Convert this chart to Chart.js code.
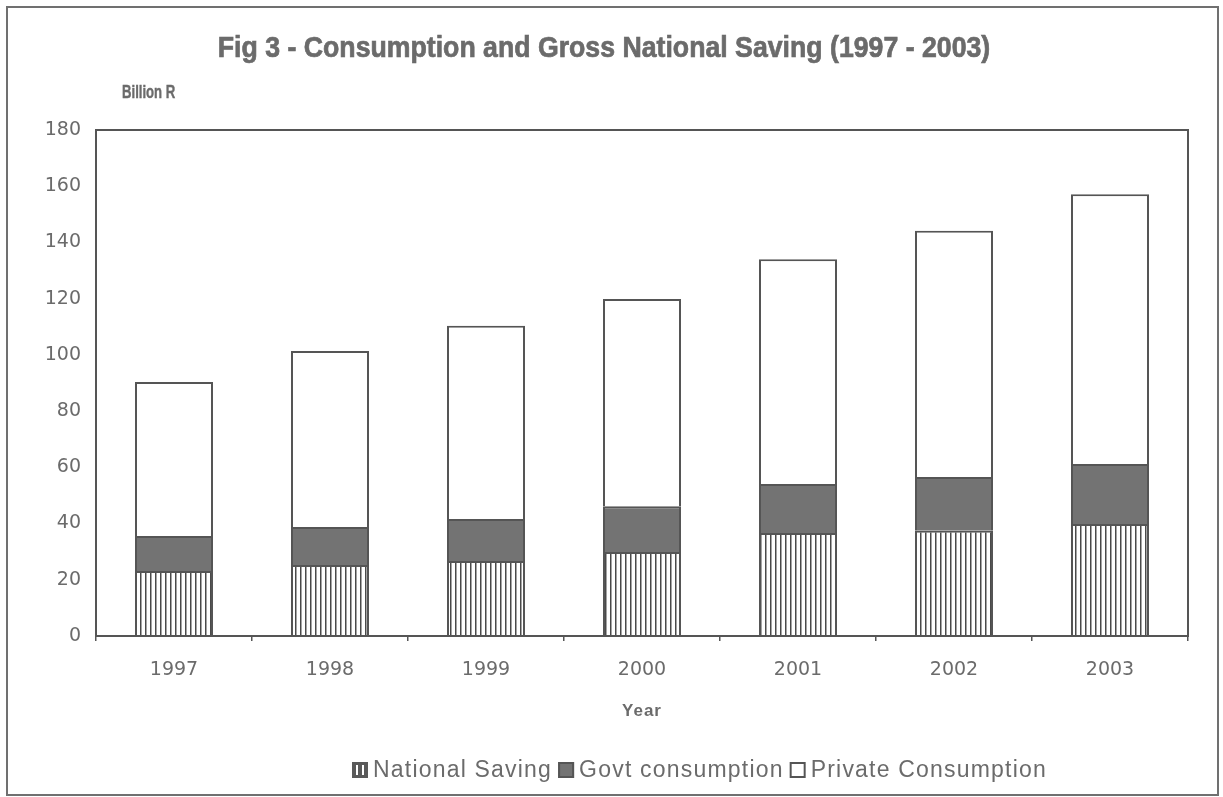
<!DOCTYPE html>
<html>
<head>
<meta charset="utf-8">
<script src="https://cdn.jsdelivr.net/npm/chart.js@4.4.0/dist/chart.umd.min.js"></script>
<style>
  html, body { margin: 0; padding: 0; background: #ffffff; }
  #wrap { position: relative; width: 1223px; height: 797px; }
  canvas { display: block; }
</style>
</head>
<body>
<div id="wrap"><canvas id="chart" width="1223" height="797"></canvas></div>
<script>
// Consumption and Gross National Saving, billion rupees
const years = ['1997', '1998', '1999', '2000', '2001', '2002', '2003'];
const nationalSaving = [23.1, 25.3, 26.7, 29.9, 36.6, 37.4, 39.8];
const govtConsumption = [12.5, 13.5, 14.9, 16.3, 17.5, 19.2, 21.4];
const privateConsumption = [54.8, 62.6, 68.8, 73.7, 79.9, 87.6, 95.9];
const seriesNames = ['National Saving', 'Govt consumption', 'Private Consumption'];
const yAxisMin = 0;
const yAxisMax = 180;
const yAxisStep = 20;

const titleText = 'Fig 3 - Consumption and Gross National Saving (1997 - 2003)';
const unitText = 'Billion R';
const xAxisText = 'Year';

const INK = '#555555';
const TEXT = '#6b6b6b';
const GOVT_FILL = '#737373';

// vertical hatching used for the saving segments
function makeHatch(bg, line, step, lw) {
  const c = document.createElement('canvas');
  c.width = step; c.height = 8;
  const g = c.getContext('2d');
  g.fillStyle = bg;
  g.fillRect(0, 0, step, 8);
  g.fillStyle = line;
  g.fillRect(0, 0, lw, 8);
  return g.createPattern(c, 'repeat');
}
const hatch = makeHatch('#ffffff', '#4a4a4a', 5, 1.5);

// heavy condensed text: a bold face squeezed horizontally and lightly stroked
function condensedText(ctx, text, x, y, squeeze, weight) {
  ctx.save();
  ctx.translate(x, y);
  ctx.scale(squeeze, 1);
  ctx.fillText(text, 0, 0);
  if (weight) {
    ctx.lineWidth = weight;
    ctx.strokeStyle = ctx.fillStyle;
    ctx.strokeText(text, 0, 0);
  }
  ctx.restore();
}

// frame, plot-area box, title, unit label and legend
const decorations = {
  id: 'decorations',
  afterDraw(chart) {
    const ctx = chart.ctx;
    const a = chart.chartArea;
    ctx.save();

    // outer frame
    ctx.strokeStyle = '#707070';
    ctx.lineWidth = 2;
    ctx.strokeRect(7, 7, 1211, 788);

    // plot area box
    ctx.strokeStyle = INK;
    ctx.lineWidth = 2;
    ctx.strokeRect(a.left, a.top, a.right - a.left, a.bottom - a.top);

    // title
    ctx.fillStyle = TEXT;
    ctx.textBaseline = 'middle';
    ctx.textAlign = 'center';
    ctx.font = 'bold 29px "Liberation Sans", Arial, sans-serif';
    condensedText(ctx, titleText, 604, 49, 0.92, 0.7);

    // unit label
    ctx.textAlign = 'left';
    ctx.font = 'bold 18px "Liberation Sans", Arial, sans-serif';
    condensedText(ctx, unitText, 122, 93, 0.73, 0.4);

    // x axis name
    ctx.textAlign = 'center';
    ctx.font = 'bold 17px "Liberation Sans", Arial, sans-serif';
    ctx.letterSpacing = '1px';
    ctx.fillText(xAxisText, 642, 711);

    // legend
    ctx.textAlign = 'left';
    ctx.font = '23px "Liberation Sans", Arial, sans-serif';
    ctx.letterSpacing = '1.2px';
    let x = 352;
    const y = 770;
    const box = 16;
    chart.data.datasets.forEach((ds, i) => {
      const bx = x, by = y - box / 2;
      if (i === 0) {
        ctx.fillStyle = '#5a5a5a';
        ctx.fillRect(bx, by, box, box);
        ctx.fillStyle = '#ffffff';
        ctx.fillRect(bx + 4, by + 3, 2, box - 6);
        ctx.fillRect(bx + 10, by + 3, 2, box - 6);
      } else {
        ctx.fillStyle = ds.backgroundColor;
        ctx.fillRect(bx, by, box, box);
        ctx.strokeStyle = INK;
        ctx.lineWidth = 2;
        ctx.strokeRect(bx + 1, by + 1, box - 2, box - 2);
      }
      ctx.fillStyle = TEXT;
      const label = ds.label;
      ctx.fillText(label, bx + box + 5, y + 1);
      x = bx + box + 5 + ctx.measureText(label).width + 6;
    });
    ctx.restore();
  }
};

const chart = new Chart(document.getElementById('chart'), {
  type: 'bar',
  data: {
    labels: years,
    datasets: [
      {
        label: seriesNames[0],
        data: nationalSaving,
        backgroundColor: hatch,
        borderColor: INK,
        borderWidth: 2
      },
      {
        label: seriesNames[1],
        data: govtConsumption,
        backgroundColor: GOVT_FILL,
        borderColor: INK,
        borderWidth: 2
      },
      {
        label: seriesNames[2],
        data: privateConsumption,
        backgroundColor: '#ffffff',
        borderColor: INK,
        borderWidth: 2
      }
    ]
  },
  options: {
    responsive: false,
    animation: false,
    devicePixelRatio: 1,
    layout: { padding: { left: 0, top: 130, right: 35, bottom: 0 } },
    datasets: {
      bar: { categoryPercentage: 0.5, barPercentage: 1.0 }
    },
    plugins: {
      legend: { display: false },
      title: { display: false },
      tooltip: { enabled: false }
    },
    scales: {
      x: {
        stacked: true,
        grid: {
          display: true,
          drawOnChartArea: false,
          drawTicks: true,
          tickLength: 5,
          color: INK,
          lineWidth: 1.5,
          offset: true
        },
        border: { display: true, color: INK, width: 2 },
        ticks: {
          color: TEXT,
          font: { family: '"DejaVu Sans", sans-serif', size: 19 },
          padding: 18
        },
        afterFit(scale) { scale.height = 161; }
      },
      y: {
        stacked: true,
        min: yAxisMin,
        max: yAxisMax,
        grid: { display: false, drawTicks: false },
        border: { display: true, color: INK, width: 2 },
        ticks: {
          stepSize: yAxisStep,
          color: TEXT,
          font: { family: '"DejaVu Sans", sans-serif', size: 19 },
          padding: 15
        },
        afterFit(scale) { scale.width = 96; }
      }
    }
  },
  plugins: [decorations]
});
</script>
</body>
</html>
